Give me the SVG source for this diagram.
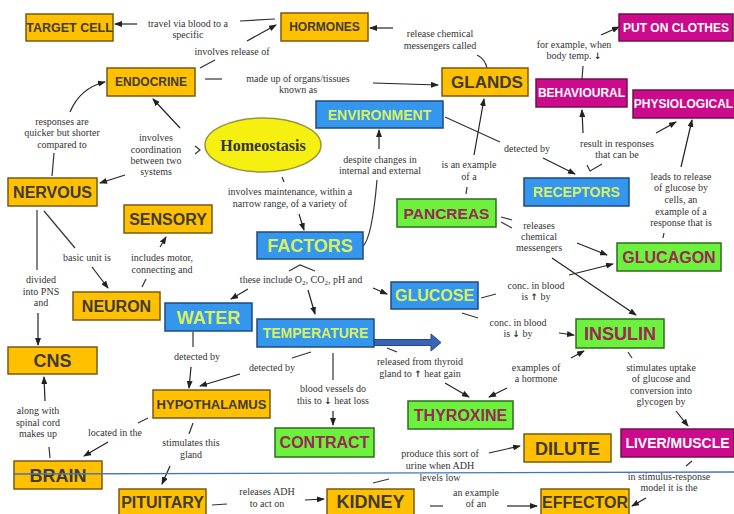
<svg xmlns="http://www.w3.org/2000/svg" width="734" height="514" viewBox="0 0 734 514">
  <defs>
    <marker id="ah" markerWidth="8" markerHeight="6" refX="7" refY="3" orient="auto" markerUnits="userSpaceOnUse">
      <path d="M0,0 L8,3 L0,6 Z" fill="#222"/>
    </marker>
    <style>
      .box { stroke-width: 1.5; }
      .y rect { fill: #ffc000; stroke: #7a5a10; }
      .y text { fill: #403a30; }
      .b rect { fill: #3496ec; stroke: #1f4a80; }
      .b text { fill: #d8f060; }
      .g rect { fill: #6cf23c; stroke: #2f6a20; }
      .g text { fill: #9a2858; }
      .m rect { fill: #cc0a8c; stroke: #70104c; }
      .m text { fill: #ffffff; }
      .node text { font-family: "Liberation Sans", Arial, sans-serif; font-weight: bold; text-anchor: middle; }
      .lbl { font-family: "Liberation Serif", "Times New Roman", serif; font-size: 10px; fill: #333; text-anchor: middle; }
      .arr { font-family: "DejaVu Sans", sans-serif; font-weight: bold; font-size: 9px; }
      .c { fill: none; stroke: #333; stroke-width: 1.2; }
      .a { fill: none; stroke: #222; stroke-width: 1.2; marker-end: url(#ah); }
    </style>
  </defs>
  <rect width="734" height="514" fill="#ffffff"/>

  <!-- connectors -->
  <g id="connectors">
    <line class="c" x1="240" y1="21" x2="275" y2="19"/>
    <line class="a" x1="137" y1="24" x2="115" y2="24"/>
    <line class="c" x1="200" y1="68" x2="215" y2="60"/>
    <line class="a" x1="247" y1="41" x2="276" y2="25"/>
    <line class="c" x1="205" y1="79" x2="222" y2="79"/>
    <line class="a" x1="373" y1="83" x2="438" y2="85"/>
    <line class="a" x1="393" y1="28" x2="370" y2="28"/>
    <path class="c" d="M477,55 Q485,59 487,68"/>
    <line class="a" x1="180" y1="128" x2="153" y2="99"/>
    <polyline class="c" points="195,146 200,150 195,154"/>
    <line class="a" x1="125" y1="175" x2="100" y2="183"/>
    <path class="a" d="M70,112 Q80,88 105,82"/>
    <line class="c" x1="54" y1="153" x2="52" y2="176"/>
    <line class="c" x1="282" y1="177" x2="284" y2="182"/>
    <line class="a" x1="299" y1="214" x2="304" y2="230"/>
    <line class="a" x1="379" y1="149" x2="379" y2="130"/>
    <path class="c" d="M377,180 Q372,238 363,246"/>
    <line class="a" x1="474" y1="155" x2="484" y2="99"/>
    <line class="c" x1="467" y1="187" x2="466" y2="194"/>
    <line class="c" x1="445" y1="117" x2="500" y2="142"/>
    <line class="a" x1="543" y1="158" x2="575" y2="174"/>
    <line class="c" x1="582" y1="79" x2="583" y2="66"/>
    <line class="a" x1="601" y1="35" x2="619" y2="27"/>
    <line class="a" x1="583" y1="133" x2="582" y2="110"/>
    <line class="a" x1="656" y1="133" x2="676" y2="122"/>
    <polyline class="c" points="587,165 590,171 602,164"/>
    <line class="a" x1="681" y1="167" x2="692" y2="120"/>
    <line class="c" x1="664" y1="233" x2="663" y2="238"/>
    <line class="c" x1="501" y1="217" x2="512" y2="220"/>
    <line class="c" x1="501" y1="222" x2="512" y2="228"/>
    <line class="a" x1="577" y1="243" x2="607" y2="255"/>
    <line class="a" x1="552" y1="258" x2="636" y2="315"/>
    <line class="a" x1="569" y1="275" x2="613" y2="264"/>
    <line class="c" x1="481" y1="298" x2="496" y2="294"/>
    <line class="c" x1="462" y1="313" x2="478" y2="318"/>
    <line class="a" x1="559" y1="333" x2="574" y2="335"/>
    <line class="a" x1="571" y1="358" x2="584" y2="351"/>
    <line class="a" x1="507" y1="388" x2="489" y2="397"/>
    <line class="c" x1="387" y1="348" x2="397" y2="352"/>
    <line class="a" x1="445" y1="383" x2="469" y2="397"/>
    <line class="c" x1="292" y1="358" x2="311" y2="352"/>
    <line class="a" x1="240" y1="374" x2="200" y2="386"/>
    <line class="c" x1="193" y1="332" x2="193" y2="347"/>
    <line class="a" x1="191" y1="367" x2="189" y2="388"/>
    <line class="c" x1="333" y1="353" x2="333" y2="380"/>
    <line class="a" x1="333" y1="411" x2="333" y2="425"/>
    <polyline class="c" points="289,271 300,265 315,271"/>
    <line class="a" x1="248" y1="289" x2="231" y2="299"/>
    <line class="a" x1="308" y1="290" x2="315" y2="314"/>
    <line class="a" x1="373" y1="288" x2="387" y2="294"/>
    <line class="c" x1="44" y1="211" x2="75" y2="248"/>
    <line class="a" x1="92" y1="267" x2="108" y2="288"/>
    <line class="a" x1="160" y1="247" x2="166" y2="237"/>
    <line class="c" x1="142" y1="287" x2="146" y2="279"/>
    <line class="c" x1="37" y1="210" x2="37" y2="270"/>
    <line class="a" x1="38" y1="313" x2="38" y2="345"/>
    <line class="a" x1="45" y1="401" x2="44" y2="377"/>
    <line class="c" x1="50" y1="458" x2="49" y2="447"/>
    <line class="c" x1="148" y1="418" x2="138" y2="423"/>
    <line class="a" x1="108" y1="442" x2="84" y2="456"/>
    <line class="c" x1="193" y1="423" x2="189" y2="434"/>
    <line class="a" x1="170" y1="466" x2="162" y2="484"/>
    <line class="c" x1="212" y1="505" x2="227" y2="504"/>
    <line class="a" x1="305" y1="500" x2="324" y2="499"/>
    <line class="c" x1="373" y1="483" x2="389" y2="479"/>
    <line class="a" x1="489" y1="453" x2="520" y2="446"/>
    <line class="c" x1="430" y1="506" x2="443" y2="506"/>
    <line class="a" x1="507" y1="506" x2="537" y2="506"/>
    <line class="c" x1="628" y1="352" x2="632" y2="358"/>
    <line class="a" x1="676" y1="411" x2="688" y2="426"/>
    <line class="c" x1="692" y1="461" x2="686" y2="466"/>
    <line class="a" x1="646" y1="498" x2="632" y2="506"/>
    <!-- broad block arrow out of TEMPERATURE -->
    <path d="M374,339.5 L431,339.5 L431,334 L441,342.5 L431,351 L431,345.5 L374,345.5 Z" fill="#3a64b4" stroke="#24468a" stroke-width="1"/>
  </g>

  <!-- link labels -->
  <g id="labels" class="lbl">
    <text class="lbl" x="188" y="27">travel via blood to a</text>
    <text class="lbl" x="188" y="38">specific</text>
    <text class="lbl" x="232" y="55">involves release of</text>
    <text class="lbl" x="298" y="82">made up of organs/tissues</text>
    <text class="lbl" x="298" y="93">known as</text>
    <text class="lbl" x="440" y="37">release chemical</text>
    <text class="lbl" x="440" y="49">messengers called</text>
    <text class="lbl" x="156" y="141">involves</text>
    <text class="lbl" x="156" y="153">coordination</text>
    <text class="lbl" x="156" y="164">between two</text>
    <text class="lbl" x="156" y="175">systems</text>
    <text class="lbl" x="62" y="125">responses are</text>
    <text class="lbl" x="62" y="136">quicker but shorter</text>
    <text class="lbl" x="62" y="148">compared to</text>
    <text class="lbl" x="290" y="195">involves maintenance, within a</text>
    <text class="lbl" x="290" y="207">narrow range, of a variety of</text>
    <text class="lbl" x="380" y="163">despite changes in</text>
    <text class="lbl" x="380" y="174">internal and external</text>
    <text class="lbl" x="469" y="168">is an example</text>
    <text class="lbl" x="469" y="180">of a</text>
    <text class="lbl" x="527" y="152">detected by</text>
    <text class="lbl" x="574" y="48">for example, when</text>
    <text class="lbl" x="574" y="59">body temp. <tspan class="arr">↓</tspan></text>
    <text class="lbl" x="617" y="147">result in responses</text>
    <text class="lbl" x="617" y="158">that can be</text>
    <text class="lbl" x="681" y="180">leads to release</text>
    <text class="lbl" x="681" y="191">of glucose by</text>
    <text class="lbl" x="681" y="203">cells, an</text>
    <text class="lbl" x="681" y="215">example of a</text>
    <text class="lbl" x="681" y="226">response that is</text>
    <text class="lbl" x="539" y="229">releases</text>
    <text class="lbl" x="539" y="240">chemical</text>
    <text class="lbl" x="539" y="251">messengers</text>
    <text class="lbl" x="536" y="289">conc. in blood</text>
    <text class="lbl" x="536" y="300">is <tspan class="arr">↑</tspan> by</text>
    <text class="lbl" x="518" y="326">conc. in blood</text>
    <text class="lbl" x="518" y="337">is <tspan class="arr">↓</tspan> by</text>
    <text class="lbl" x="536" y="371">examples of</text>
    <text class="lbl" x="536" y="382">a hormone</text>
    <text class="lbl" x="420" y="365">released from thyroid</text>
    <text class="lbl" x="420" y="377">gland to <tspan class="arr">↑</tspan> heat gain</text>
    <text class="lbl" x="272" y="371">detected by</text>
    <text class="lbl" x="197" y="360">detected by</text>
    <text class="lbl" x="333" y="392">blood vessels do</text>
    <text class="lbl" x="333" y="404">this to <tspan class="arr">↓</tspan> heat loss</text>
    <text class="lbl" x="301" y="283">these include O<tspan font-size="7" dy="2">2</tspan><tspan dy="-2">, CO</tspan><tspan font-size="7" dy="2">2</tspan><tspan dy="-2">, pH and</tspan></text>
    <text class="lbl" x="87" y="261">basic unit is</text>
    <text class="lbl" x="162" y="261">includes motor,</text>
    <text class="lbl" x="162" y="273">connecting and</text>
    <text class="lbl" x="41" y="283">divided</text>
    <text class="lbl" x="41" y="295">into PNS</text>
    <text class="lbl" x="41" y="306">and</text>
    <text class="lbl" x="38" y="414">along with</text>
    <text class="lbl" x="38" y="426">spinal cord</text>
    <text class="lbl" x="38" y="437">makes up</text>
    <text class="lbl" x="115" y="436">located in the</text>
    <text class="lbl" x="191" y="446">stimulates this</text>
    <text class="lbl" x="191" y="458">gland</text>
    <text class="lbl" x="267" y="495">releases ADH</text>
    <text class="lbl" x="267" y="507">to act on</text>
    <text class="lbl" x="440" y="457">produce this sort of</text>
    <text class="lbl" x="440" y="469">urine when ADH</text>
    <text class="lbl" x="440" y="481">levels low</text>
    <text class="lbl" x="476" y="496">an example</text>
    <text class="lbl" x="476" y="507">of an</text>
    <text class="lbl" x="661" y="371">stimulates uptake</text>
    <text class="lbl" x="661" y="382">of glucose and</text>
    <text class="lbl" x="661" y="394">conversion into</text>
    <text class="lbl" x="661" y="405">glycogen by</text>
    <text class="lbl" x="669" y="480">in stimulus-response</text>
    <text class="lbl" x="669" y="491">model it is the</text>
  </g>

  <!-- central concept -->
  <g id="homeostasis">
    <ellipse cx="263" cy="145" rx="58" ry="27" fill="#f6f010" stroke="#9a9440" stroke-width="1.5"/>
    <text x="263" y="151" font-family="Liberation Serif, Times New Roman, serif" font-weight="bold" font-size="16" fill="#333" text-anchor="middle">Homeostasis</text>
  </g>

  <!-- concept nodes -->
  <g id="target-cell" class="node y"><rect class="box" x="26" y="14" width="87" height="27"/><text x="69.5" y="32" font-size="12.5">TARGET CELL</text></g>
  <g id="hormones" class="node y"><rect class="box" x="281" y="13" width="87" height="28"/><text x="324.5" y="31" font-size="12">HORMONES</text></g>
  <g id="endocrine" class="node y"><rect class="box" x="107" y="68" width="88" height="28"/><text x="151" y="86" font-size="12">ENDOCRINE</text></g>
  <g id="glands" class="node y"><rect class="box" x="442" y="68" width="86" height="28"/><text x="487" y="88" font-size="17">GLANDS</text></g>
  <g id="environment" class="node b"><rect class="box" x="316" y="101" width="127" height="27"/><text x="379.5" y="119.5" font-size="14">ENVIRONMENT</text></g>
  <g id="put-on-clothes" class="node m"><rect class="box" x="619" y="14" width="114" height="27"/><text x="676" y="32" font-size="12">PUT ON CLOTHES</text></g>
  <g id="behavioural" class="node m"><rect class="box" x="536" y="79" width="91" height="28"/><text x="581.5" y="97" font-size="12">BEHAVIOURAL</text></g>
  <g id="physiological" class="node m"><rect class="box" x="633" y="90" width="102" height="28"/><text x="683.5" y="108" font-size="12">PHYSIOLOGICAL</text></g>
  <g id="receptors" class="node b"><rect class="box" x="524" y="178" width="105" height="28"/><text x="576.5" y="197" font-size="14">RECEPTORS</text></g>
  <g id="nervous" class="node y"><rect class="box" x="8" y="178" width="89" height="28"/><text x="52.5" y="197.5" font-size="16">NERVOUS</text></g>
  <g id="sensory" class="node y"><rect class="box" x="124" y="205" width="88" height="28"/><text x="168" y="224.5" font-size="16">SENSORY</text></g>
  <g id="pancreas" class="node g"><rect class="box" x="397" y="199" width="99" height="28"/><text x="446.5" y="218.5" font-size="15.5">PANCREAS</text></g>
  <g id="factors" class="node b"><rect class="box" x="257" y="232" width="106" height="27"/><text x="310" y="252" font-size="18">FACTORS</text></g>
  <g id="glucagon" class="node g"><rect class="box" x="617" y="243" width="104" height="28"/><text x="669" y="262.5" font-size="16">GLUCAGON</text></g>
  <g id="neuron" class="node y"><rect class="box" x="73" y="292" width="87" height="28"/><text x="116.5" y="311.5" font-size="16">NEURON</text></g>
  <g id="water" class="node b"><rect class="box" x="165" y="303" width="87" height="28"/><text x="208.5" y="323.5" font-size="18">WATER</text></g>
  <g id="glucose" class="node b"><rect class="box" x="391" y="282" width="87" height="27"/><text x="434.5" y="301" font-size="16">GLUCOSE</text></g>
  <g id="temperature" class="node b"><rect class="box" x="257" y="319" width="117" height="28"/><text x="315.5" y="338" font-size="14">TEMPERATURE</text></g>
  <g id="insulin" class="node g"><rect class="box" x="576" y="319" width="88" height="29"/><text x="620" y="340" font-size="18">INSULIN</text></g>
  <g id="cns" class="node y"><rect class="box" x="8" y="347" width="89" height="27"/><text x="52.5" y="367" font-size="18">CNS</text></g>
  <g id="hypothalamus" class="node y"><rect class="box" x="153" y="390" width="117" height="28"/><text x="211.5" y="408.5" font-size="13">HYPOTHALAMUS</text></g>
  <g id="contract" class="node g"><rect class="box" x="275" y="428" width="99" height="29"/><text x="324.5" y="448" font-size="16">CONTRACT</text></g>
  <g id="thyroxine" class="node g"><rect class="box" x="408" y="401" width="105" height="28"/><text x="460.5" y="420.5" font-size="16">THYROXINE</text></g>
  <g id="dilute" class="node y"><rect class="box" x="524" y="434" width="87" height="28"/><text x="567.5" y="454.5" font-size="18">DILUTE</text></g>
  <g id="liver-muscle" class="node m"><rect class="box" x="621" y="429" width="113" height="28"/><text x="677.5" y="448" font-size="14">LIVER/MUSCLE</text></g>
  <g id="brain" class="node y"><rect class="box" x="14" y="461" width="88" height="28"/><text x="58" y="481.5" font-size="18">BRAIN</text></g>
  <g id="pituitary" class="node y"><rect class="box" x="119" y="489" width="87" height="26"/><text x="162.5" y="507.5" font-size="16">PITUITARY</text></g>
  <g id="kidney" class="node y"><rect class="box" x="327" y="489" width="87" height="26"/><text x="370.5" y="508" font-size="18">KIDNEY</text></g>
  <g id="effector" class="node y"><rect class="box" x="541" y="489" width="88" height="26"/><text x="585" y="507.5" font-size="16">EFFECTOR</text></g>

  <!-- thin rule across the lower part -->
  <line x1="13" y1="474" x2="734" y2="472" stroke="#4472c4" stroke-width="1.3"/>
</svg>
